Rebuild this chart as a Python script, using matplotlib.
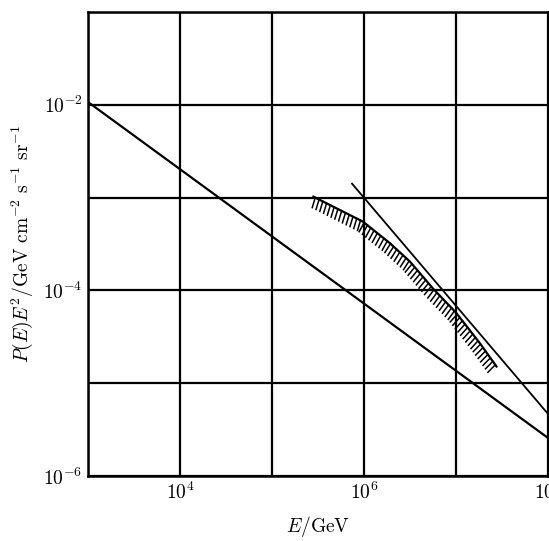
import numpy as np
import matplotlib
matplotlib.use("Agg")
import matplotlib.pyplot as plt
import matplotlib.patheffects as pe

plt.rcParams['mathtext.fontset'] = 'cm'
plt.rcParams['font.family'] = 'serif'
plt.rcParams['font.serif'] = ['DejaVu Serif']

# data (log10 values)
line_a_logE = [3.0, 8.0]
line_a_logP = [-1.97, -5.59]

line_b_logE = [5.87, 8.3]
line_b_logP = [-2.85, -5.68]

band_logE = [5.45, 5.99, 6.28, 6.50, 6.75, 7.00, 7.26, 7.44]
band_logP = [-2.99, -3.26, -3.49, -3.69, -3.98, -4.24, -4.57, -4.82]

xticks = [1e3, 1e4, 1e5, 1e6, 1e7, 1e8]
xticklabels = ['', r'$10^4$', '', r'$10^6$', '', r'$10^8$']
yticks = [1e-6, 1e-5, 1e-4, 1e-3, 1e-2, 1e-1]
yticklabels = [r'$10^{-6}$', '', r'$10^{-4}$', '', r'$10^{-2}$', '']

fig = plt.figure(figsize=(5.49, 5.41), dpi=100)
ax = fig.add_axes([88/549, 1 - 476/541, 460/549, 464/541])
ax.set_xscale('log')
ax.set_yscale('log')
ax.set_xlim(1e3, 1e8)
ax.set_ylim(1e-6, 1e-1)

ax.plot(10**np.array(line_a_logE), 10**np.array(line_a_logP), color='black', lw=1.6)
ax.plot(10**np.array(line_b_logE), 10**np.array(line_b_logP), color='black', lw=1.3)
ax.plot(10**np.array(band_logE), 10**np.array(band_logP), color='black', lw=1.6,
        path_effects=[pe.withTickedStroke(angle=-80, length=2.5, spacing=3.0, linewidth=1.1)])

ax.set_xticks(xticks)
ax.set_xticklabels(xticklabels)
ax.set_yticks(yticks)
ax.set_yticklabels(yticklabels)
ax.minorticks_off()
ax.tick_params(length=0, labelsize=14, pad=4)
ax.grid(True, color='black', lw=1.6)
for s in ax.spines.values():
    s.set_linewidth(1.8)

ax.set_xlabel(r'$E/\mathrm{GeV}$', fontsize=14, labelpad=8)
ax.set_ylabel(r'$P(E)E^2/\mathrm{GeV\ cm^{-2}\ s^{-1}\ sr^{-1}}$', fontsize=14, labelpad=6)

fig.savefig('out.png', dpi=100)
